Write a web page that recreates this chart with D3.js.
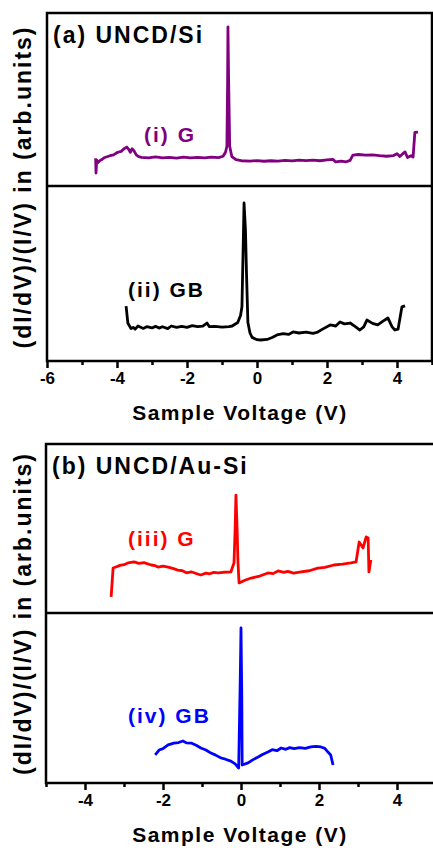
<!DOCTYPE html>
<html>
<head>
<meta charset="utf-8">
<script src="https://cdn.jsdelivr.net/npm/d3@7"></script>
<style>
  body { margin: 0; background: #fff; }
  text { font-family: "Liberation Sans", Arial, sans-serif; font-weight: bold; }
</style>
</head>
<body>
<svg id="svg" width="433" height="848"></svg>
<script>
// values: [sample voltage (V), signal (arb. units, 0-100 within each strip)]
const gSi = [
  [-4.61, 16], [-4.6, 7.5], [-4.58, 15], [-4.55, 13.5], [-4.5, 14.5], [-4.42, 15.5], [-4.35, 16.5],
  [-4.2, 17.5], [-4.1, 18], [-3.98, 19.5], [-3.88, 20], [-3.8, 21.5], [-3.72, 22.5], [-3.66, 21],
  [-3.62, 19.5], [-3.57, 21.5], [-3.52, 20.5], [-3.45, 18], [-3.38, 17], [-3.3, 16.6], [-3.1, 16.3],
  [-2.9, 16.8], [-2.7, 16.2], [-2.5, 16.6], [-2.3, 16.1], [-2.1, 16.7], [-1.9, 16.2], [-1.7, 16.5],
  [-1.5, 16.2], [-1.3, 16.7], [-1.1, 16.4], [-0.97, 17.2], [-0.9, 19.5], [-0.86, 23], [-0.84, 60],
  [-0.83, 92], [-0.81, 60], [-0.78, 23], [-0.72, 17], [-0.6, 15.2], [-0.45, 14.6], [-0.2, 14.4],
  [0.0, 14.7], [0.2, 14.3], [0.4, 14.6], [0.6, 14.4], [0.8, 14.8], [1.0, 14.5], [1.2, 15.0],
  [1.4, 14.7], [1.6, 15.0], [1.8, 14.6], [2.0, 15.1], [2.17, 15.4], [2.25, 13.9], [2.4, 14.4],
  [2.55, 14.0], [2.66, 14.8], [2.74, 17.9], [2.9, 18.2], [3.1, 17.8], [3.3, 18], [3.5, 17.5],
  [3.7, 17.2], [3.9, 17.6], [4.0, 18.7], [4.08, 17], [4.15, 18.4], [4.23, 19.7], [4.3, 16.5],
  [4.4, 17.5], [4.46, 16.8], [4.51, 31], [4.6, 31.2]
]
const gbSi = [
  [-3.74, 31.4], [-3.69, 21.7], [-3.6, 18.5], [-3.54, 19.2], [-3.48, 18.2], [-3.4, 20], [-3.34, 19.4],
  [-3.25, 18.6], [-3.15, 19.6], [-3.0, 18.9], [-2.9, 19.8], [-2.8, 18.8], [-2.7, 19.6], [-2.55, 18.5],
  [-2.45, 20], [-2.3, 19.2], [-2.15, 19.8], [-2.0, 19.2], [-1.85, 20.2], [-1.7, 19.6], [-1.55, 19.9],
  [-1.43, 21.7], [-1.36, 19.6], [-1.2, 19.8], [-1.0, 19.4], [-0.8, 19.7], [-0.71, 20], [-0.55, 22],
  [-0.47, 26], [-0.43, 31], [-0.39, 70], [-0.37, 90.3], [-0.33, 75], [-0.3, 50], [-0.26, 22],
  [-0.2, 16], [-0.14, 13.5], [0.0, 12.2], [0.1, 12], [0.29, 12.3], [0.45, 13.6], [0.57, 14.9],
  [0.75, 15.6], [0.9, 15.2], [1.03, 16.6], [1.2, 16.0], [1.4, 16.5], [1.6, 15.8], [1.71, 16.3],
  [1.9, 18.5], [2.09, 20.6], [2.25, 20.0], [2.37, 22.3], [2.5, 21.2], [2.66, 21.7], [2.8, 19.8],
  [2.94, 17.7], [3.05, 19.5], [3.14, 23.4], [3.3, 21.5], [3.45, 20.6], [3.6, 22.8], [3.74, 24.6],
  [3.86, 19.5], [3.94, 17.7], [4.03, 18.2], [4.14, 30.9], [4.23, 31.5]
]
const gAuSi = [
  [-3.33, 9.5], [-3.28, 26.6], [-3.21, 27.2], [-3.1, 28.2], [-3.0, 28.6], [-2.9, 29.6], [-2.74, 30.2],
  [-2.62, 29.4], [-2.49, 29.8], [-2.3, 28.4], [-2.2, 28.0], [-2.13, 27.2], [-2.0, 27.8], [-1.87, 27.2],
  [-1.75, 26.4], [-1.62, 25.4], [-1.5, 25.0], [-1.4, 23.8], [-1.28, 24.4], [-1.15, 23.4], [-1.03, 22.5],
  [-0.9, 23.6], [-0.8, 23.2], [-0.7, 24.0], [-0.59, 23.7], [-0.45, 24.1], [-0.26, 24.3], [-0.18, 29.6],
  [-0.15, 50], [-0.13, 69.8], [-0.1, 50], [-0.08, 31.4], [-0.05, 17.8], [0.1, 19.4], [0.26, 20.7],
  [0.45, 21.6], [0.69, 23.7], [0.82, 23.3], [0.95, 24.9], [1.1, 24.0], [1.2, 24.6], [1.35, 23.6],
  [1.54, 24.3], [1.75, 25.0], [1.97, 26.6], [2.15, 27.0], [2.38, 28.4], [2.6, 28.9], [2.82, 29.6],
  [2.95, 30.2], [3.03, 42], [3.13, 38.5], [3.21, 45], [3.26, 44.4], [3.28, 24.3], [3.33, 31.4]
]
const gbAuSi = [
  [-2.2, 16.5], [-2.1, 19.4], [-2.0, 20.2], [-1.87, 22.4], [-1.72, 23.5], [-1.6, 23.8], [-1.49, 24.7],
  [-1.4, 23.6], [-1.28, 23.5], [-1.15, 22.2], [-1.03, 20.6], [-0.9, 19.4], [-0.77, 17.6], [-0.65, 16.4],
  [-0.51, 14.7], [-0.4, 14.0], [-0.26, 12.9], [-0.15, 11.2], [-0.06, 8.8], [-0.02, 60], [0.0, 91.2],
  [0.02, 50], [0.03, 10.6], [0.18, 11.8], [0.3, 13.6], [0.44, 15.3], [0.55, 16.8], [0.69, 18.2],
  [0.8, 19.6], [0.92, 19.0], [1.03, 20.6], [1.15, 19.8], [1.25, 20.8], [1.36, 20.2], [1.5, 20.8],
  [1.65, 20.4], [1.79, 21.2], [1.92, 21.6], [2.05, 21.2], [2.15, 20.4], [2.23, 18.2], [2.3, 16.5],
  [2.36, 10.6]
]

const majorA = [-6, -4, -2, 0, 2, 4]
const minorA = [-5, -3, -1, 1, 3, 5]
const majorB = [-4, -2, 0, 2, 4]
const minorB = [-5, -3, -1, 1, 3, 5]

const yTitle = '(dI/dV)/(I/V) in (arb.units)'
const xTitle = 'Sample Voltage (V)'

const svg = d3.select('#svg')

// one block per panel
const panels = [
  {
    top: 13, mid: 186, bottom: 361, left: 47, right: 432,
    domain: [-6, 5], major: majorA, minor: minorA,
    title: '(a) UNCD/Si',
    series: [
      { data: gSi, color: '#800080', label: '(i) G', lx: 144, ly: 142, strip: 0 },
      { data: gbSi, color: '#000000', label: '(ii) GB', lx: 128, ly: 297, strip: 1 }
    ]
  },
  {
    top: 444, mid: 613, bottom: 783, left: 46, right: 436,
    domain: [-5, 5], major: majorB, minor: minorB,
    title: '(b) UNCD/Au-Si',
    series: [
      { data: gAuSi, color: '#ff0000', label: '(iii) G', lx: 128, ly: 546, strip: 0 },
      { data: gbAuSi, color: '#0000ff', label: '(iv) GB', lx: 128, ly: 723, strip: 1 }
    ]
  }
]

panels.forEach(p => {
  const x = d3.scaleLinear().domain(p.domain).range([p.left, p.right])
  const strips = [[p.mid, p.top], [p.bottom, p.mid]]

  const g = svg.append('g')

  // curves
  p.series.forEach(s => {
    const y = d3.scaleLinear().domain([0, 100]).range(strips[s.strip])
    const line = d3.line().x(d => x(d[0])).y(d => y(d[1]))
    g.append('path')
      .datum(s.data)
      .attr('d', line)
      .attr('fill', 'none')
      .attr('stroke', s.color)
      .attr('stroke-width', 2.8)
      .attr('stroke-linejoin', 'round')

    g.append('text')
      .attr('x', s.lx)
      .attr('y', s.ly)
      .attr('fill', s.color)
      .attr('font-size', 21)
      .attr('letter-spacing', 2)
      .text(s.label)
  })

  // frame + divider
  g.append('rect')
    .attr('x', p.left).attr('y', p.top)
    .attr('width', p.right - p.left).attr('height', p.bottom - p.top)
    .attr('fill', 'none').attr('stroke', '#000').attr('stroke-width', 2.5)
  g.append('line')
    .attr('x1', p.left).attr('x2', p.right)
    .attr('y1', p.mid).attr('y2', p.mid)
    .attr('stroke', '#000').attr('stroke-width', 2.5)

  // bottom axis: labelled major ticks, short minor ticks
  const majorAxis = d3.axisBottom(x).tickValues(p.major).tickSize(6).tickPadding(4)
    .tickFormat(d3.format('d'))
  const minorAxis = d3.axisBottom(x).tickValues(p.minor).tickSize(3).tickFormat('')

  const ax = g.append('g').attr('transform', `translate(0, ${p.bottom + 1})`).call(majorAxis)
  ax.select('.domain').remove()
  ax.selectAll('line').attr('stroke-width', 2.5)
  ax.selectAll('text')
    .attr('font-size', 17)
    .attr('font-family', '"Liberation Sans", Arial, sans-serif')
    .attr('font-weight', 'bold')
    .attr('fill', '#000')
    .text(d => (d < 0 ? '-' : '') + Math.abs(d))

  const mx = g.append('g').attr('transform', `translate(0, ${p.bottom + 1})`).call(minorAxis)
  mx.select('.domain').remove()
  mx.selectAll('line').attr('stroke-width', 2.5)

  // texts
  g.append('text')
    .attr('x', p.left + 6).attr('y', p.top + 30)
    .attr('font-size', 23)
    .attr('letter-spacing', 2)
    .text(p.title)

  g.append('text')
    .attr('x', 240).attr('y', p.bottom + 59)
    .attr('text-anchor', 'middle')
    .attr('font-size', 21)
    .attr('letter-spacing', 1.5)
    .text(xTitle)

  g.append('text')
    .attr('transform', `translate(31, ${(p.top + p.bottom) / 2}) rotate(-90)`)
    .attr('text-anchor', 'middle')
    .attr('font-size', 23)
    .attr('letter-spacing', 2)
    .text(yTitle)
})
</script>
</body>
</html>
